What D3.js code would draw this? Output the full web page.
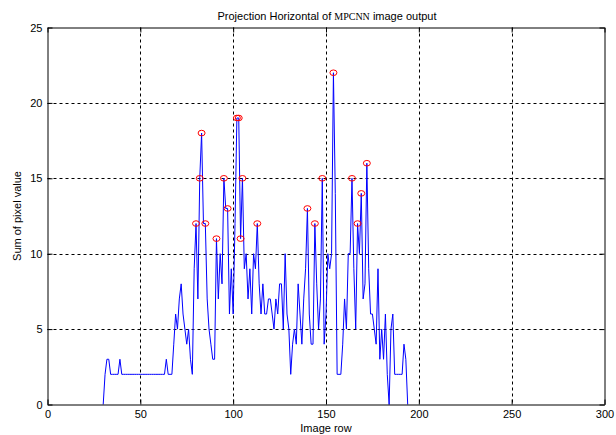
<!DOCTYPE html>
<html>
<head>
<meta charset="utf-8">
<script src="https://cdn.jsdelivr.net/npm/d3@7/dist/d3.min.js"></script>
<style>
  html, body { margin: 0; padding: 0; background: #fff; }
  svg { display: block; }
  text { font-family: "Liberation Sans", Arial, Helvetica, sans-serif; fill: #000; }
</style>
</head>
<body>
<svg id="chart" width="616" height="435"></svg>
<script>
// ---- data ----
const firstRow = 30;
const sums = [
  0, 2, 3, 3, 2, 2, 2, 2, 2, 3,            // 30-39
  2, 2, 2, 2, 2, 2, 2, 2, 2, 2,            // 40-49
  2, 2, 2, 2, 2, 2, 2, 2, 2, 2,            // 50-59
  2, 2, 2, 2, 3, 2, 2, 2, 4, 6,            // 60-69
  5, 7, 8, 6, 5, 4, 5, 3, 2, 9,            // 70-79
  12, 7, 15, 18, 12, 12, 7, 5, 4, 3,       // 80-89
  3, 11, 7, 10, 8, 15, 13, 13, 6, 9,       // 90-99
  6, 12, 19, 19, 11, 15, 9, 10, 7, 9,      // 100-109
  6, 10, 9, 12, 8, 6, 8, 6, 6, 7,          // 110-119
  7, 6, 5, 7, 6, 8, 8, 5, 10, 6,           // 120-129
  5, 2, 4, 5, 4, 8, 6, 4, 7, 9,            // 130-139
  13, 6, 4, 4, 12, 8, 5, 7, 15, 4,         // 140-149
  6, 10, 9, 10, 22, 14, 2, 2, 2, 4,        // 150-159
  7, 5, 10, 10, 15, 9, 5, 12, 10, 14,      // 160-169
  7, 8, 16, 9, 6, 6, 5, 4, 9, 3,           // 170-179
  5, 3, 6, 2, 0, 5, 6, 2, 2, 2,            // 180-189
  2, 2, 4, 3, 0                            // 190-194
];
const peakRows   = [80, 82, 83, 85, 91, 95, 97, 102, 103, 104, 105, 113, 140, 144, 148, 154, 164, 167, 169, 172];
const peakValues = [12, 15, 18, 12, 11, 15, 13, 19, 19, 11, 15, 12, 13, 12, 15, 22, 15, 12, 14, 16];
const xTicks = [0, 50, 100, 150, 200, 250, 300];
const yTicks = [0, 5, 10, 15, 20, 25];

const series = sums.map((v, i) => ({ row: firstRow + i, value: v }));
const peaks = peakRows.map((r, i) => ({ row: r, value: peakValues[i] }));

// ---- layout ----
const plotL = 47.5, plotR = 604.5, plotT = 27.5, plotB = 404.5;
const svg = d3.select("#chart");
const x = d3.scaleLinear().domain([0, 300]).range([plotL, plotR]);
const y = d3.scaleLinear().domain([0, 25]).range([plotB, plotT]);

// grid
const grid = svg.append("g").attr("stroke", "#000").attr("stroke-width", 1)
  .attr("stroke-dasharray", "3,3").attr("fill", "none");
xTicks.filter(t => t > 0 && t < 300).forEach(t => {
  grid.append("line").attr("x1", Math.round(x(t)) + 0.5).attr("x2", Math.round(x(t)) + 0.5)
    .attr("y1", plotT).attr("y2", plotB);
});
yTicks.filter(t => t > 0 && t < 25).forEach(t => {
  grid.append("line").attr("y1", Math.round(y(t)) + 0.5).attr("y2", Math.round(y(t)) + 0.5)
    .attr("x1", plotL).attr("x2", plotR);
});

// data line
const line = d3.line().x(d => x(d.row)).y(d => y(d.value));
svg.append("path").datum(series)
  .attr("d", line).attr("fill", "none").attr("stroke", "#0000ff").attr("stroke-width", 1);

// peak markers
svg.append("g").selectAll("ellipse").data(peaks).join("ellipse")
  .attr("cx", d => x(d.row)).attr("cy", d => y(d.value))
  .attr("rx", 3.5).attr("ry", 2.8)
  .attr("fill", "none").attr("stroke", "#ff0000").attr("stroke-width", 1);

// axes (MATLAB style box with inward ticks)
const tickLen = 5;
const axB = d3.axisBottom(x).tickValues(xTicks).tickSizeInner(-tickLen).tickSizeOuter(0).tickPadding(6);
const axT = d3.axisTop(x).tickValues(xTicks).tickSizeInner(-tickLen).tickSizeOuter(0).tickFormat("");
const axL = d3.axisLeft(y).tickValues(yTicks).tickSizeInner(-tickLen).tickSizeOuter(0).tickPadding(5);
const axR = d3.axisRight(y).tickValues(yTicks).tickSizeInner(-tickLen).tickSizeOuter(0).tickFormat("");

function styleAxis(g) {
  g.selectAll("path").attr("stroke", "#000");
  g.selectAll("line").attr("stroke", "#000");
  g.selectAll("text").attr("font-size", "11px")
    .attr("font-family", "'Liberation Sans', Arial, sans-serif").attr("fill", "#000");
}
svg.append("g").attr("transform", `translate(0,${plotB})`).call(axB).call(styleAxis);
svg.append("g").attr("transform", `translate(0,${plotT})`).call(axT).call(styleAxis);
svg.append("g").attr("transform", `translate(${plotL},0)`).call(axL).call(styleAxis);
svg.append("g").attr("transform", `translate(${plotR},0)`).call(axR).call(styleAxis);

// labels
const title = svg.append("text").attr("x", (plotL + plotR) / 2 + 1).attr("y", 20)
  .attr("text-anchor", "middle").attr("font-size", "11px");
title.append("tspan").text("Projection Horizontal of ");
title.append("tspan").attr("font-family", "'Liberation Serif', 'Times New Roman', serif")
  .attr("font-size", "10px").text("MPCNN");
title.append("tspan").text(" image output");

svg.append("text").attr("x", (plotL + plotR) / 2).attr("y", 432)
  .attr("text-anchor", "middle").attr("font-size", "11px").text("Image row");

svg.append("text").attr("transform", `translate(21,${(plotT + plotB) / 2}) rotate(-90)`)
  .attr("text-anchor", "middle").attr("font-size", "11px").text("Sum of pixel value");
</script>
</body>
</html>
